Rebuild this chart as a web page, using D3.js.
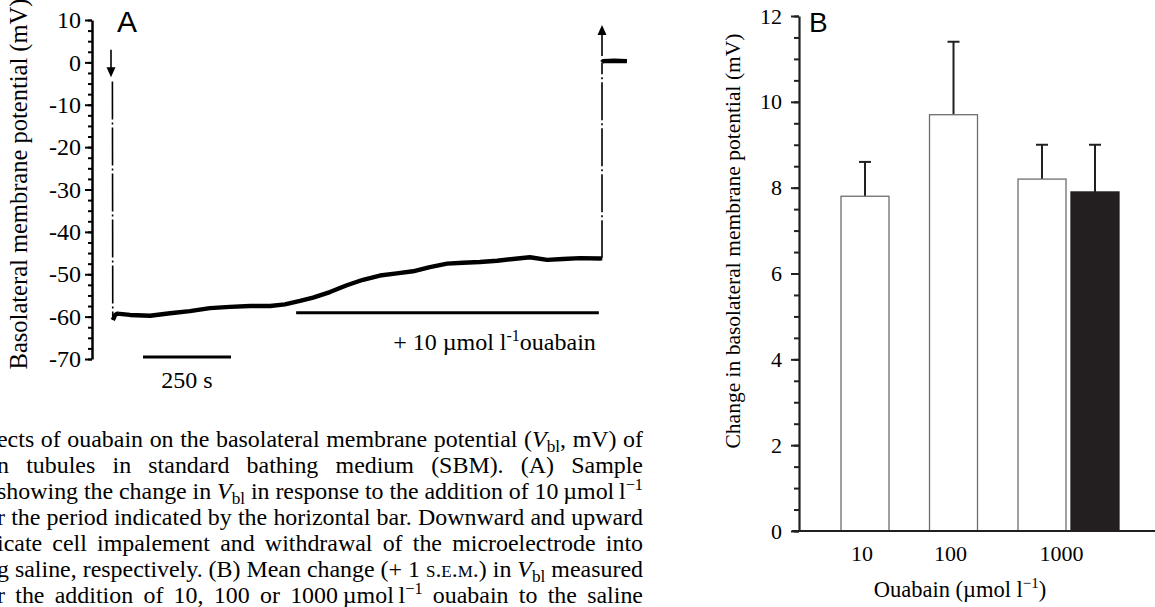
<!DOCTYPE html>
<html>
<head>
<meta charset="utf-8">
<script src="https://cdn.jsdelivr.net/npm/d3@7"></script>
<style>
body { margin: 0; background: #fff; }
svg { display: block; }
text { font-family: "Liberation Serif", "Times New Roman", serif; fill: #000; }
</style>
</head>
<body>
<div id="viz"></div>
<script>
(function() {

// ---- panel A: sample recording, time in s, potential in mV
var traceTime = [4, 5, 8, 12, 17, 54, 111, 168, 224, 281, 338, 395, 452, 494, 537, 574, 622, 670, 716, 764,
                 812, 858, 906, 955, 1000, 1048, 1097, 1142, 1190, 1239, 1284, 1332, 1389, 1395, 1395, 1398, 1430, 1466];
var traceMv   = [-4.5, -60.8, -60.3, -59.6, -59.3, -59.6, -59.8, -59.2, -58.7, -58.0, -57.7, -57.5, -57.5, -57.1, -56.3, -55.5, -54.2, -52.6, -51.3, -50.3,
                 -49.8, -49.3, -48.3, -47.5, -47.3, -47.1, -46.8, -46.4, -46.0, -46.6, -46.4, -46.2, -46.3, -46.2, 0.0, 0.3, 0.4, 0.3];
var ouabainPeriod = [526, 1386];
var scaleBar = [91, 341];      // 250 s
var arrowDown = [0, 3, -3.5];   // time, from, to
var arrowUp = [1395, 1.5, 8.8];
var ticksA = [-70, -60, -50, -40, -30, -20, -10, 0, 10];

// ---- panel B: mean change in V_bl (+1 s.e.m.)
var doses = ["10", "100", "1000"];
var meanOpen = [7.8, 9.7, 8.2];
var semOpen = [0.8, 1.7, 0.8];
var meanFilled = [7.9];   // second bar at 1000
var semFilled = [1.1];
var ticksB = [0, 2, 4, 6, 8, 10, 12];

var caption = [
  [["ects of ouabain on the basolateral membrane potential ("], ["V", "i"], ["bl", "sub"], [", mV) of"]],
  [["n tubules in standard bathing medium (SBM). (A) Sample"]],
  [["showing the change in "], ["V", "i"], ["bl", "sub"], [" in response to the addition of 10\u2009\u00b5mol\u2009l"], ["\u22121", "sup"]],
  [["r the period indicated by the horizontal bar. Downward and upward"]],
  [["icate cell impalement and withdrawal of the microelectrode into"]],
  [["g saline, respectively. (B) Mean change (+ 1 "], ["s.e.m.", "sc"], [") in "], ["V", "i"], ["bl", "sub"], [" measured"]],
  [["r the addition of 10, 100 or 1000\u2009\u00b5mol\u2009l"], ["\u22121", "sup"], [" ouabain to the saline"]]
];

var W = 1155, H = 607;
var svg = d3.select("#viz").append("svg").attr("width", W).attr("height", H);

// ================= panel A
var xA = d3.scaleLinear().domain([0, 1466]).range([111, 627]);
var yA = d3.scaleLinear().domain([-70, 10]).range([359, 20]);

var minorA = svg.append("g").attr("transform", "translate(92,0)")
    .call(d3.axisLeft(yA).tickValues(d3.range(-70, 12.5, 2.5)).tickSize(4).tickSizeOuter(0).tickFormat(""));
minorA.select(".domain").remove();
minorA.selectAll("line").attr("stroke", "#000").attr("stroke-width", 2);

var axA = svg.append("g").attr("transform", "translate(92,0)")
    .call(d3.axisLeft(yA).tickValues(ticksA).tickSize(7).tickSizeOuter(0).tickPadding(4)
      .tickFormat(function(d){ return String(d); }));
axA.attr("font-family", null).attr("font-size", null);
axA.select(".domain").attr("stroke", "#000").attr("stroke-width", 2.5);
axA.selectAll("line").attr("stroke", "#000").attr("stroke-width", 2);
axA.selectAll("text").style("font-size", "24px").attr("fill", "#000");

svg.append("text")
    .attr("transform", "translate(27,184) rotate(-90)")
    .attr("text-anchor", "middle")
    .style("font-size", "24.5px")
    .text("Basolateral membrane potential (mV)");

svg.append("text").attr("x", 117).attr("y", 32)
    .style("font-family", "'Liberation Sans', Arial, sans-serif").style("font-size", "30px")
    .attr("fill", "#231f20")
    .text("A");

// trace: smooth parts thick, electrode jumps thin and broken
var pts = traceTime.map(function(t, i){ return {t: t, v: traceMv[i]}; });
var runs = [], jumps = [], cur = [pts[0]];
for (var i = 1; i < pts.length; i++) {
  if (Math.abs(pts[i].v - pts[i-1].v) > 8) {
    jumps.push([pts[i-1], pts[i]]);
    runs.push(cur);
    cur = [pts[i]];
  } else {
    cur.push(pts[i]);
  }
}
runs.push(cur);

var lineA = d3.line().x(function(d){ return xA(d.t); }).y(function(d){ return yA(d.v); });

svg.selectAll("path.run").data(runs.filter(function(r){ return r.length > 1; }))
  .enter().append("path").attr("class", "run")
    .attr("d", lineA)
    .attr("fill", "none").attr("stroke", "#000")
    .attr("stroke-width", 4.4).attr("stroke-linejoin", "round");

svg.selectAll("path.jump").data(jumps)
  .enter().append("path").attr("class", "jump")
    .attr("d", lineA)
    .attr("fill", "none").attr("stroke", "#000")
    .attr("stroke-width", 1.6)
    .attr("stroke-dasharray", "38,3,2,3");

function arrow(a) {
  var x = xA(a[0]), y0 = yA(a[1]), y1 = yA(a[2]);
  var dir = y1 > y0 ? 1 : -1;
  svg.append("line")
      .attr("x1", x).attr("x2", x).attr("y1", y0).attr("y2", y1 - dir * 8)
      .attr("stroke", "#000").attr("stroke-width", 1.6);
  svg.append("path")
      .attr("d", "M" + x + "," + y1 + "L" + (x - 4.5) + "," + (y1 - dir * 10) + "L" + (x + 4.5) + "," + (y1 - dir * 10) + "Z")
      .attr("fill", "#000");
}
arrow(arrowDown);
arrow(arrowUp);

// ouabain bar
svg.append("line")
    .attr("x1", xA(ouabainPeriod[0])).attr("x2", xA(ouabainPeriod[1]))
    .attr("y1", yA(-59.1)).attr("y2", yA(-59.1))
    .attr("stroke", "#000").attr("stroke-width", 3);

var oLab = svg.append("text")
    .attr("x", xA(ouabainPeriod[1]) - 3).attr("y", 350)
    .attr("text-anchor", "end")
    .style("font-size", "24px");
oLab.append("tspan").text("+ 10 \u00b5mol l");
oLab.append("tspan").attr("dy", -9).style("font-size", "16px").text("-1");
oLab.append("tspan").attr("dy", 9).text("ouabain");

// time scale bar
svg.append("line")
    .attr("x1", xA(scaleBar[0])).attr("x2", xA(scaleBar[1]))
    .attr("y1", yA(-69.5)).attr("y2", yA(-69.5))
    .attr("stroke", "#000").attr("stroke-width", 3);
svg.append("text")
    .attr("x", (xA(scaleBar[0]) + xA(scaleBar[1])) / 2).attr("y", 388)
    .attr("text-anchor", "middle")
    .style("font-size", "24px")
    .text("250 s");

// caption (cut at the edges, justified)
var capRight = 643, capLeft = -3, capBase = 22;
var capTexts = caption.map(function(parts, li) {
  var t = svg.append("text")
      .attr("x", capLeft).attr("y", 447 + li * 26)
      .style("font-size", capBase + "px");
  var off = 0;
  parts.forEach(function(p) {
    var target = p[1] === "sub" ? 5 : (p[1] === "sup" ? -9 : 0);
    var s = t.append("tspan").attr("dy", target - off).text(p[0]);
    off = target;
    if (p[1] === "i") s.style("font-style", "italic");
    if (p[1] === "sub") s.attr("class", "small").style("font-size", "0.72em");
    if (p[1] === "sup") s.attr("class", "small").style("font-size", "0.68em");
    if (p[1] === "sc") s.style("font-variant", "small-caps");
  });
  return t;
});
// the full-width line 4 sets the type size, then every line is justified
var refLen = capTexts[3].node().getComputedTextLength();
var capSize = capBase * (capRight - capLeft - 2) / refLen;
capTexts.forEach(function(t, li) {
  t.style("font-size", capSize + "px");
  var full = caption[li].map(function(p){ return p[0]; }).join("");
  var nSp = full.split(" ").length - 1;
  var len = t.node().getComputedTextLength();
  if (nSp > 0) t.style("word-spacing", ((capRight - capLeft - len) / nSp) + "px");
});

// ================= panel B
var yB = d3.scaleLinear().domain([0, 12]).range([531, 16]);
var xB = d3.scalePoint().domain(doses).range([865, 1042]);
var barW = 48, pairGap = 5;
var ink = "#231f20";

var minorB = svg.append("g").attr("transform", "translate(799,0)")
    .call(d3.axisLeft(yB).tickValues(d3.range(0, 12.5, 0.5)).tickSize(5).tickSizeOuter(0).tickFormat(""));
minorB.select(".domain").remove();
minorB.selectAll("line").attr("stroke", ink).attr("stroke-width", 2);

var axB = svg.append("g").attr("transform", "translate(799,0)")
    .call(d3.axisLeft(yB).tickValues(ticksB).tickSize(8).tickSizeOuter(0).tickPadding(9));
axB.attr("font-family", null).attr("font-size", null);
axB.select(".domain").attr("stroke", ink).attr("stroke-width", 2.2);
axB.selectAll("line").attr("stroke", ink).attr("stroke-width", 2);
axB.selectAll("text").style("font-size", "22px").attr("fill", ink);

svg.append("line")
    .attr("x1", 792).attr("x2", W).attr("y1", yB(0)).attr("y2", yB(0))
    .attr("stroke", ink).attr("stroke-width", 2.2);

svg.append("text").attr("x", 809).attr("y", 32)
    .style("font-family", "'Liberation Sans', Arial, sans-serif").style("font-size", "28px")
    .attr("fill", ink)
    .text("B");

svg.append("text")
    .attr("transform", "translate(740,241) rotate(-90)")
    .attr("text-anchor", "middle")
    .style("font-size", "21.5px")
    .attr("fill", ink)
    .text("Change in basolateral membrane potential (mV)");

var open = doses.map(function(d, i){ return {dose: d, cx: xB(d), m: meanOpen[i], s: semOpen[i], fill: "#fff"}; });
var filled = meanFilled.map(function(m, i){ return {dose: "1000", cx: xB("1000") + barW + pairGap, m: m, s: semFilled[i], fill: ink}; });
var bars = open.concat(filled);

svg.selectAll("line.err").data(bars).enter().append("line").attr("class", "err")
    .attr("x1", function(d){ return d.cx; }).attr("x2", function(d){ return d.cx; })
    .attr("y1", function(d){ return yB(d.m); }).attr("y2", function(d){ return yB(d.m + d.s); })
    .attr("stroke", ink).attr("stroke-width", 2);
svg.selectAll("line.cap").data(bars).enter().append("line").attr("class", "cap")
    .attr("x1", function(d){ return d.cx - 6; }).attr("x2", function(d){ return d.cx + 6; })
    .attr("y1", function(d){ return yB(d.m + d.s); }).attr("y2", function(d){ return yB(d.m + d.s); })
    .attr("stroke", ink).attr("stroke-width", 2);

svg.selectAll("rect.bar").data(bars).enter().append("rect").attr("class", "bar")
    .attr("x", function(d){ return d.cx - barW / 2; })
    .attr("y", function(d){ return yB(d.m); })
    .attr("width", barW)
    .attr("height", function(d){ return yB(0) - yB(d.m); })
    .attr("fill", function(d){ return d.fill; })
    .attr("stroke", function(d){ return d.fill === "#fff" ? "#6d6e71" : ink; })
    .attr("stroke-width", 1.3);

// redraw the axis line over bar feet
svg.append("line")
    .attr("x1", 792).attr("x2", W).attr("y1", yB(0)).attr("y2", yB(0))
    .attr("stroke", ink).attr("stroke-width", 2.2);

svg.selectAll("text.dose").data(doses).enter().append("text").attr("class", "dose")
    .attr("x", function(d){ return d === "1000" ? (xB(d) + filled[0].cx) / 2 - 7 : xB(d) - 3; })
    .attr("y", 561)
    .attr("text-anchor", "middle")
    .style("font-size", "22px")
    .attr("fill", ink)
    .text(function(d){ return d; });

var xt = svg.append("text")
    .attr("x", 960).attr("y", 597)
    .attr("text-anchor", "middle")
    .style("font-size", "22.5px")
    .attr("fill", ink);
xt.append("tspan").text("Ouabain (\u00b5mol l");
xt.append("tspan").attr("dy", -9).style("font-size", "15px").text("\u22121");
xt.append("tspan").attr("dy", 9).text(")");

})();
</script>
</body>
</html>
